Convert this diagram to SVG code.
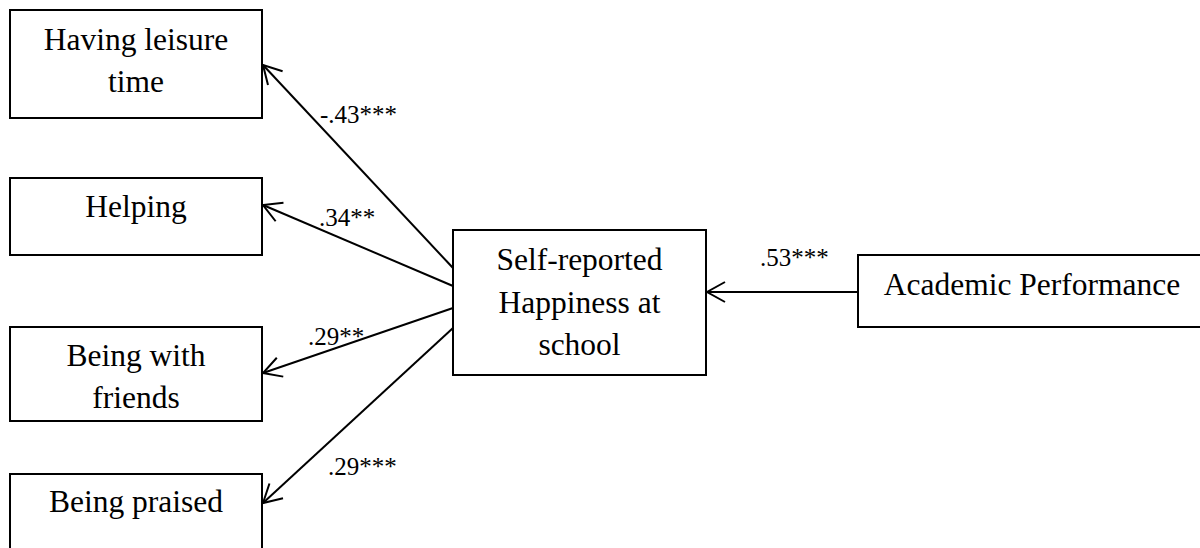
<svg xmlns="http://www.w3.org/2000/svg" width="1200" height="548" viewBox="0 0 1200 548">
<style>
.box{fill:#fff;stroke:#000;stroke-width:2}
.t{font-family:"Liberation Serif","Times New Roman",serif;font-size:31.5px;fill:#000;text-anchor:middle}
.l{font-family:"Liberation Serif","Times New Roman",serif;font-size:25px;fill:#000}
.c{fill:none;stroke:#000;stroke-width:2}
</style>
<defs>
<marker id="ah" viewBox="-20 -12 22 24" refX="0" refY="0" markerWidth="22" markerHeight="24" markerUnits="userSpaceOnUse" orient="auto">
<path d="M-18,-10 L0,0 L-18,10" fill="none" stroke="#000" stroke-width="2"/>
</marker>
</defs>
<rect width="1200" height="548" fill="#fff"/>
<g id="connectors">
<line class="c" x1="453" y1="268" x2="263" y2="65" marker-end="url(#ah)"/>
<line class="c" x1="453" y1="286" x2="263" y2="205" marker-end="url(#ah)"/>
<line class="c" x1="453" y1="308" x2="263" y2="373" marker-end="url(#ah)"/>
<line class="c" x1="453" y1="328" x2="263" y2="503" marker-end="url(#ah)"/>
<line class="c" x1="858" y1="292" x2="707" y2="292" marker-end="url(#ah)"/>
<text class="l" x="320" y="123">-.43***</text>
<text class="l" x="319" y="226">.34**</text>
<text class="l" x="308" y="345">.29**</text>
<text class="l" x="328" y="475">.29***</text>
<text class="l" x="760" y="266">.53***</text>
</g>
<g id="leisure">
<rect class="box" x="10" y="10" width="252" height="108"/>
<text class="t" x="136" y="50">Having leisure</text>
<text class="t" x="136" y="92">time</text>
</g>
<g id="helping">
<rect class="box" x="10" y="178" width="252" height="77"/>
<text class="t" x="136" y="217">Helping</text>
</g>
<g id="friends">
<rect class="box" x="10" y="327" width="252" height="94"/>
<text class="t" x="136" y="366">Being with</text>
<text class="t" x="136" y="408">friends</text>
</g>
<g id="praised">
<rect class="box" x="10" y="474" width="252" height="100"/>
<text class="t" x="136" y="512">Being praised</text>
</g>
<g id="happiness">
<rect class="box" x="453" y="230" width="253" height="145"/>
<text class="t" x="579.5" y="270">Self-reported</text>
<text class="t" x="579.5" y="313">Happiness at</text>
<text class="t" x="579.5" y="355">school</text>
</g>
<g id="academic">
<rect class="box" x="858" y="255" width="360" height="72"/>
<text class="t" x="1032" y="295">Academic Performance</text>
</g>
</svg>
